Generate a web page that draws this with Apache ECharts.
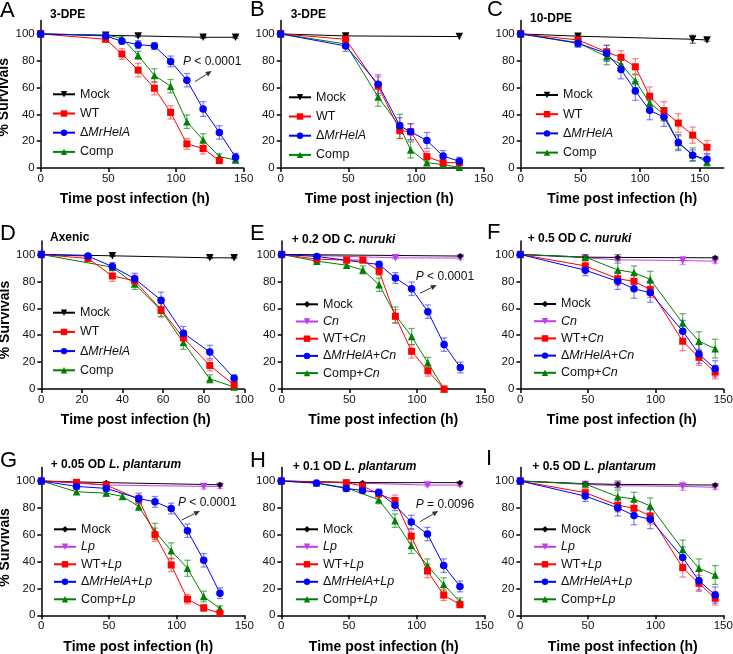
<!DOCTYPE html>
<html><head><meta charset="utf-8">
<script src="https://cdn.jsdelivr.net/npm/echarts@6/dist/echarts.min.js"></script>
<style>html,body{margin:0;padding:0;background:#fff}#c{width:733px;height:654px}</style>
</head><body><div id="c"></div>
<script>
// ---- data: [time (h), % survival, error] ----
const A_mock = [[0,100,0],[48,99,0],[72,98.5,0.8],[120,97.5,0.8],[144,97.5,0.8]];
const A_wt   = [[0,100,0],[48,96,1.5],[60,85,4],[72,73,5],[84,59.5,5],[96,41.5,5],[108,18,4],[120,14.5,4],[132,5.5,2]];
const A_ko   = [[0,100,0],[48,98.5,1],[60,94.5,2],[72,92,3],[84,91,2.5],[96,79.5,4],[108,65.5,5],[120,44,5.5],[132,26.5,5],[144,8,3]];
const A_comp = [[0,100,0],[48,99,0.5],[60,97,1.5],[72,84,3],[84,69,5],[96,61,5],[108,34.5,5],[120,21,4.5],[132,8.5,2],[144,6,1.5]];

const B_mock = [[0,100,0],[48,98.5,1],[132,98,0]];
const B_wt   = [[0,100,0],[48,96,2],[72,61,7],[88,28,6],[96,27,6],[108,8.5,4],[120,4,3],[132,4,2]];
const B_ko   = [[0,100,0],[48,91,4],[72,62.5,7],[88,31.5,6],[96,27,6],[108,20.5,6],[120,9,4],[132,5,3]];
const B_comp = [[0,100,0],[48,92.5,2],[72,53,7],[88,31,9],[96,13.5,6],[108,4,2],[120,2.5,1.5],[132,0.5,1]];

const C_mock = [[0,100,0],[48,98.3,1],[144,96,3],[156,95.5,1]];
const C_wt   = [[0,100,0],[48,95.5,2],[72,86.5,5],[84,82.5,5],[96,75.5,6],[108,53.5,7],[120,42.5,7],[132,33.5,7],[144,24.5,6],[156,15.5,5]];
const C_ko   = [[0,100,0],[48,93,3],[72,85.5,6],[84,73.5,7],[96,57.5,7],[108,43,7],[120,38,7],[132,19,6],[144,9.5,4],[156,6.5,4]];
const C_comp = [[0,100,0],[48,93.5,3],[72,83,6],[84,77.5,5],[96,65,5],[108,48.5,5],[120,40,5],[132,19,5],[144,10,5],[156,4.5,3]];

const D_mock = [[0,100,0],[35,99,0.5],[83,97.5,0.5],[95,97.5,0.5]];
const D_wt   = [[0,100,0],[23,97,1],[35,84,4],[46,80.5,4],[59,59,5],[70,38,5],[83,17.5,4],[95,3,2]];
const D_ko   = [[0,100,0],[23,98.8,1],[35,91,3],[46,82,4],[59,66,6],[70,41.5,5],[83,27.5,5],[95,8,2.5]];
const D_comp = [[0,100,0],[35,90.5,2],[46,78,4],[59,58.5,5],[70,34.5,5],[83,7.5,3],[95,1.5,1]];

const E_mock = [[0,100,0],[132,98.8,0.5]];
const E_cn   = [[0,100,0],[84,97.5,0.8],[132,97.3,1]];
const E_wt   = [[0,100,0],[26,96.5,1.5],[48,95.8,2],[60,95.8,2],[72,87.5,3],[84,54,5],[96,28,5],[108,13.5,4],[120,0,0]];
const E_ko   = [[0,100,0],[26,98.5,1],[72,92.5,2.5],[84,82.5,4],[96,74.5,5],[108,57.5,5],[120,33,5],[132,16,4]];
const E_comp = [[0,100,0],[26,95,1.5],[48,92,2],[60,88.5,3],[72,77.5,5],[84,55,6],[96,39,6],[108,19.5,4],[120,0,0]];

const F_mock = [[0,100,0],[48,98,0.5],[72,97.8,2],[144,97.5,1]];
const F_cn   = [[0,100,0],[48,97.5,1],[72,96,1],[120,95.5,3],[144,95,1.5]];
const F_wt   = [[0,100,0],[48,91.5,3],[72,82,5],[84,80,5],[96,74,6],[120,35.5,7],[132,23.5,6],[144,12.5,5]];
const F_ko   = [[0,100,0],[48,88.3,4],[72,80,6],[84,74.5,7],[96,71.5,7],[120,43,8],[132,26,7],[144,15,6]];
const F_comp = [[0,100,0],[48,98,1.5],[72,88.5,5],[84,86.5,5],[96,81.5,6],[120,49,7],[132,35.5,7],[144,30,7]];

const G_mock = [[0,100,0],[48,98.8,0.5],[132,97.2,1]];
const G_lp   = [[0,100,0],[48,97,0.5],[120,96,2],[132,96,1.5]];
const G_wt   = [[0,100,0],[26,99,1],[48,97,1.5],[72,86.5,3],[84,60,5],[96,37.5,5],[108,12,3.5],[120,5.5,2.5],[132,1.5,1]];
const G_ko   = [[0,100,0],[26,96,2],[48,94.5,2],[72,87,4],[84,84.5,4],[96,79.5,4],[108,63,5],[120,41,5],[132,16.5,4]];
const G_comp = [[0,100,0],[26,92,2],[48,91,2.5],[60,88.5,2],[72,81,3],[84,62.5,6],[96,48,6],[108,35,6],[120,14,4],[132,5,2]];

const H_mock = [[0,100,0],[60,98.8,0.5],[132,98.8,0.5]];
const H_lp   = [[0,100,0],[108,97,0.8],[132,97,1]];
const H_wt   = [[0,100,0],[48,98.8,1],[60,96.3,2],[72,90.5,2.5],[84,85.5,4],[96,59,5],[108,33,5],[120,15,4],[132,8,2.5]];
const H_ko   = [[0,100,0],[26,98.5,1],[48,94.5,2],[60,93,2],[72,91.5,2.5],[84,82,4],[96,69.5,5],[108,60.5,5],[120,37,5],[132,21.5,4]];
const H_comp = [[0,100,0],[26,98.5,1],[48,95,1.5],[72,86,3],[84,70.5,5],[96,52,6],[108,37,5],[120,23,5],[132,10,3]];

const I_mock = [[0,100,0],[48,98,0.5],[72,97.5,2.5],[144,97,1]];
const I_lp   = [[0,100,0],[48,97.5,1],[72,96.5,1],[120,96,3],[144,95.3,1.5]];
const I_wt   = [[0,100,0],[48,91.3,3],[72,82,5],[84,79.7,5],[96,74,6],[120,35.5,7],[132,23.8,6],[144,12.7,5]];
const I_ko   = [[0,100,0],[48,88.8,4],[72,80,6],[84,74.4,7],[96,71.5,7],[120,43,8],[132,25.8,7],[144,15.1,6]];
const I_comp = [[0,100,0],[48,97.8,1.5],[72,88.3,5],[84,86.6,5],[96,81.4,6],[120,49,7],[132,35,7],[144,30,7]];

const Y_TICKS = [0,20,40,60,80,100];
const X_NAME_INF = 'Time post infection (h)';
const X_NAME_INJ = 'Time post injection (h)';

// ---- layout ----
const FONT = '"Liberation Sans", Arial, Helvetica, sans-serif';
const PANELS = [
  {k:'A', title:'3-DPE', xmax:150, xint:50, xname:X_NAME_INF, yname:true, gl:40.7, gt:20.5, gh:147.5,
   kind:'dpe', data:{mock:A_mock, wt:A_wt, ko:A_ko, comp:A_comp},
   lg:[52,87.8,6.2], tt:[50,8.2], lt:[0,-0.5], xs:-7.5, ys:3},
  {k:'B', title:'3-DPE', xmax:150, xint:50, xname:X_NAME_INJ, yname:false, gl:280.7, gt:20.5, gh:147.5,
   kind:'dpe', data:{mock:B_mock, wt:B_wt, ko:B_ko, comp:B_comp},
   lg:[288,90.8,6.2], tt:[290.7,8.2], lt:[250,-1], xs:-3, ys:0},
  {k:'C', title:'10-DPE', xmax:170, xint:50, xname:X_NAME_INF, yname:false, gl:520.7, gt:20.5, gh:147.5,
   kind:'dpe', data:{mock:C_mock, wt:C_wt, ko:C_ko, comp:C_comp},
   lg:[535,88.5,6.2], tt:[530,12.5], lt:[487,-1], xs:0, ys:0},
  {k:'D', title:'Axenic', xmax:100, xint:20, xname:X_NAME_INF, yname:true, gl:41.3, gt:241, gh:148,
   kind:'dpe', data:{mock:D_mock, wt:D_wt, ko:D_ko, comp:D_comp},
   lg:[52,306.2,6.2], tt:[50,231.7], lt:[0,222.8], xs:-7, ys:5},
  {k:'E', title:'+ 0.2 OD {i|C. nuruki}', xmax:150, xint:50, xname:X_NAME_INF, yname:false, gl:281.7, gt:241, gh:148,
   kind:'cn', data:{mock:E_mock, ctrl:E_cn, wt:E_wt, ko:E_ko, comp:E_comp},
   lg:[295,297.8,4.2], tt:[291.7,233.3], lt:[250,222.8], xs:0, ys:0},
  {k:'F', title:'+ 0.5 OD {i|C. nuruki}', xmax:150, xint:50, xname:X_NAME_INF, yname:false, gl:520.3, gt:241, gh:148,
   kind:'cn', data:{mock:F_mock, ctrl:F_cn, wt:F_wt, ko:F_ko, comp:F_comp},
   lg:[533,297.5,4.2], tt:[527.7,232.3], lt:[487,221.5], xs:0, ys:0},
  {k:'G', title:'+ 0.05 OD {i|L. plantarum}', xmax:150, xint:50, xname:X_NAME_INF, yname:true, gl:41.3, gt:467.6, gh:147.7,
   kind:'lp', data:{mock:G_mock, ctrl:G_lp, wt:G_wt, ko:G_ko, comp:G_comp},
   lg:[53,522.8,4.5], tt:[50.7,458.3], lt:[0,450], xs:-4.5, ys:6},
  {k:'H', title:'+ 0.1 OD {i|L. plantarum}', xmax:150, xint:50, xname:X_NAME_INF, yname:false, gl:281.3, gt:467.6, gh:147.7,
   kind:'lp', data:{mock:H_mock, ctrl:H_lp, wt:H_wt, ko:H_ko, comp:H_comp},
   lg:[295,522.8,4.5], tt:[292.7,460.7], lt:[250,449.7], xs:1, ys:0},
  {k:'I', title:'+ 0.5 OD {i|L. plantarum}', xmax:150, xint:50, xname:X_NAME_INF, yname:false, gl:520.3, gt:467.6, gh:147.7,
   kind:'lp', data:{mock:I_mock, ctrl:I_lp, wt:I_wt, ko:I_ko, comp:I_comp},
   lg:[533,522.8,4.5], tt:[532.3,460.7], lt:[486,448], xs:1, ys:0}
];
const GRID_W = 203;

const SPEC = {
  mock:  {color:'#000000', err:'rgba(0,0,0,0.55)', symbol:'triangle', rot:180, size:7.5},
  mockD: {color:'#000000', err:'rgba(0,0,0,0.55)', symbol:'diamond', rot:0, size:6},
  ctrl:  {color:'#c03cf0', err:'rgba(192,60,240,0.55)', symbol:'triangle', rot:180, size:7.5},
  wt:    {color:'#ff0000', err:'rgba(255,30,30,0.55)', symbol:'rect', rot:0, size:7},
  ko:    {color:'#0000ff', err:'rgba(30,30,255,0.55)', symbol:'circle', rot:0, size:7.5},
  comp:  {color:'#008000', err:'rgba(0,128,0,0.6)', symbol:'triangle', rot:0, size:7.5}
};
const LABELS = {
  dpe: {mock:'Mock', wt:'WT', ko:'\u0394{i|MrHelA}', comp:'Comp'},
  cn:  {mock:'Mock', ctrl:'{i|Cn}', wt:'WT+{i|Cn}', ko:'\u0394{i|MrHelA}+{i|Cn}', comp:'Comp+{i|Cn}'},
  lp:  {mock:'Mock', ctrl:'{i|Lp}', wt:'WT+{i|Lp}', ko:'\u0394{i|MrHelA}+{i|Lp}', comp:'Comp+{i|Lp}'}
};
const DRAW_ORDER = ['ctrl','mock','comp','wt','ko'];
const LEGEND_ORDER = ['mock','ctrl','wt','ko','comp'];

const P_NOTES = [
  {text:'{i|P} < 0.0001', x:183, y:61.7, a:[195,81.7,211.7,71]},
  {text:'{i|P} < 0.0001', x:415.7, y:276.7, a:[420,293.3,436.7,285]},
  {text:'{i|P} < 0.0001', x:178, y:502.3, a:[181.7,520,200,511]},
  {text:'{i|P} = 0.0096', x:415.7, y:504.3, a:[420,521.7,438.3,511]}
];

const chart = echarts.init(document.getElementById('c'), null, {renderer:'canvas'});
const grid = [], xAxis = [], yAxis = [], series = [], legend = [], title = [], graphic = [];

function ticksFor(max, step){ const r=[]; for(let v=0; v<=max+1e-9; v+=step) r.push(v); return r; }
function shiftPad(s){ return s < 0 ? [0, -2*s, 0, 0] : [0, 0, 0, 2*s]; }

PANELS.forEach((p, i) => {
  grid.push({left:p.gl, top:p.gt, width:GRID_W, height:p.gh, containLabel:false, outerBoundsMode:'none'});
  const xt = ticksFor(p.xmax, p.xint);
  xAxis.push({
    type:'value', gridIndex:i, min:0, max:p.xmax, interval:p.xint,
    axisLine:{show:true, onZero:false, lineStyle:{color:'#000', width:1.5}},
    axisTick:{show:true, length:4, lineStyle:{color:'#000', width:1.5}, customValues:xt},
    axisLabel:{fontSize:11.5, color:'#111', margin:5, fontFamily:FONT, customValues:xt},
    splitLine:{show:false},
    name:p.xname, nameLocation:'middle', nameGap:24.5,
    nameTextStyle:{fontWeight:'bold', fontSize:14, fontFamily:FONT, color:'#000', padding:shiftPad(p.xs)}
  });
  // rotated y name: left padding moves text up, right padding moves it down
  const yp = p.ys > 0 ? [0, 2*p.ys, 0, 0] : [0, 0, 0, -2*p.ys];
  yAxis.push({
    type:'value', gridIndex:i, min:0, max:110, interval:20,
    axisLine:{show:true, onZero:false, lineStyle:{color:'#000', width:1.5}},
    axisTick:{show:true, length:4, lineStyle:{color:'#000', width:1.5}, customValues:Y_TICKS},
    axisLabel:{fontSize:11.5, color:'#111', margin:6, fontFamily:FONT, customValues:Y_TICKS},
    splitLine:{show:false},
    name:p.yname ? '% Survivals' : '', nameLocation:'middle', nameGap:22.5,
    nameTextStyle:{fontWeight:'bold', fontSize:14, fontFamily:FONT, color:'#000', padding:yp}
  });
  const keys = DRAW_ORDER.filter(s => p.data[s]);
  keys.forEach(s => {
    const sp = (s==='mock' && p.kind!=='dpe') ? SPEC.mockD : SPEC[s];
    const arr = p.data[s];
    series.push({
      type:'custom', xAxisIndex:i, yAxisIndex:i, silent:true, z:1, animation:false,
      data: arr.filter(d => d[2] > 0),
      encode:{x:0, y:1},
      renderItem: (params, api) => {
        const t = api.value(0), y = api.value(1), e = api.value(2);
        const a = api.coord([t, y + e]), b = api.coord([t, y - e]);
        const w = 3.2, st = {stroke:sp.err, lineWidth:1.2};
        return {type:'group', children:[
          {type:'line', shape:{x1:a[0], y1:a[1], x2:b[0], y2:b[1]}, style:st},
          {type:'line', shape:{x1:a[0]-w, y1:a[1], x2:a[0]+w, y2:a[1]}, style:st},
          {type:'line', shape:{x1:b[0]-w, y1:b[1], x2:b[0]+w, y2:b[1]}, style:st}
        ]};
      }
    });
    series.push({
      type:'line', name:p.k + '_' + s, xAxisIndex:i, yAxisIndex:i, z:2, animation:false, silent:true,
      data: arr.map(d => [d[0], d[1]]),
      symbol:sp.symbol, symbolSize:sp.size, symbolRotate:sp.rot, showAllSymbol:true,
      lineStyle:{color:sp.color, width:1}, itemStyle:{color:sp.color}
    });
  });
  const lab = LABELS[p.kind];
  legend.push({
    orient:'vertical', left:p.lg[0], top:p.lg[1], itemGap:p.lg[2], padding:0,
    itemWidth:22, itemHeight:8, selectedMode:false,
    data: LEGEND_ORDER.filter(s => p.data[s]).map(s => p.k + '_' + s),
    formatter: name => lab[name.split('_')[1]],
    textStyle:{fontSize:12.5, fontFamily:FONT, color:'#111',
      rich:{i:{fontStyle:'italic', fontSize:12.5, fontFamily:FONT, color:'#111'}}}
  });
  title.push({text:p.title, left:p.tt[0], top:p.tt[1], padding:0,
    textStyle:{fontSize:12, fontWeight:'bold', fontFamily:FONT, color:'#000',
      rich:{i:{fontSize:12, fontWeight:'bold', fontStyle:'italic', fontFamily:FONT, color:'#000'}}}});
  title.push({text:p.k, left:p.lt[0], top:p.lt[1], padding:0,
    textStyle:{fontSize:22, fontWeight:'normal', fontFamily:FONT, color:'#000'}});
});

P_NOTES.forEach(n => {
  graphic.push({type:'text', x:n.x, y:n.y, silent:true,
    style:{text:n.text, fontSize:12, fontFamily:FONT, fill:'#111', verticalAlign:'middle', align:'left',
      rich:{i:{fontStyle:'italic', fontSize:12, fontFamily:FONT, fill:'#111'}}}});
  const [x1,y1,x2,y2] = n.a;
  const ang = Math.atan2(y2-y1, x2-x1), L = 6, W = 2.6;
  const bx = x2 - L*Math.cos(ang), by = y2 - L*Math.sin(ang);
  const px = -Math.sin(ang)*W, py = Math.cos(ang)*W;
  graphic.push({type:'line', silent:true, shape:{x1, y1, x2:bx, y2:by}, style:{stroke:'#333', lineWidth:1}});
  graphic.push({type:'polygon', silent:true, shape:{points:[[x2,y2],[bx+px,by+py],[bx-px,by-py]]}, style:{fill:'#333'}});
});

chart.setOption({animation:false, backgroundColor:'#fff', grid, xAxis, yAxis, series, legend, title, graphic});
</script></body></html>
